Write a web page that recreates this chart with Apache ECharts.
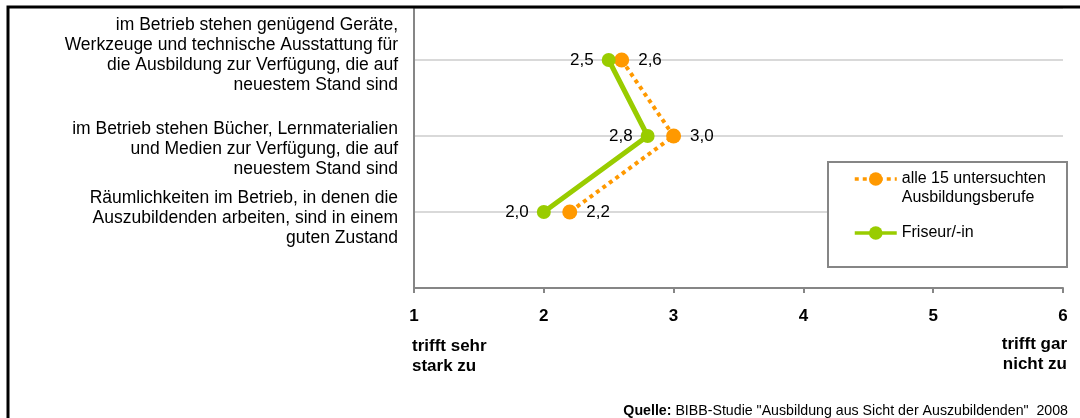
<!DOCTYPE html>
<html>
<head>
<meta charset="utf-8">
<script src="https://cdn.jsdelivr.net/npm/echarts@6/dist/echarts.min.js"></script>
<style>
  html, body { margin: 0; padding: 0; background: #fff; }
  #chart { width: 1080px; height: 418px; }
</style>
</head>
<body>
<div id="chart"></div>
<script>
// statements, top to bottom as in the picture
const categories = [
  'im Betrieb stehen genügend Geräte,\nWerkzeuge und technische Ausstattung für\ndie Ausbildung zur Verfügung, die auf\nneuestem Stand sind',
  'im Betrieb stehen Bücher, Lernmaterialien\nund Medien zur Verfügung, die auf\nneuestem Stand sind',
  'Räumlichkeiten im Betrieb, in denen die\nAuszubildenden arbeiten, sind in einem\nguten Zustand'
]
// y position of each statement on the value axis (top row = 3)
const rowPos = [3, 2, 1]
const alleValues = [2.6, 3.0, 2.2]
const friseurValues = [2.5, 2.8, 2.0]
const seriesNames = ['alle 15 untersuchten Ausbildungsberufe', 'Friseur/-in']
const xTicks = [1, 2, 3, 4, 5, 6]

const font = 'Liberation Sans, Arial, sans-serif'
const fmt = v => v.toFixed(1).replace('.', ',')
const rowLabel = (pad) => ({ fontSize: 17.5, lineHeight: 20, color: '#000', align: 'right', fontFamily: font, padding: pad })

const chart = echarts.init(document.getElementById('chart'))

chart.setOption({
  animation: false,
  textStyle: { fontFamily: font },
  grid: { left: 414, right: 17, top: 8, bottom: 130 },
  xAxis: {
    type: 'value',
    min: xTicks[0],
    max: xTicks[xTicks.length - 1],
    interval: 1,
    axisLine: { show: true, lineStyle: { color: '#868686', width: 2 } },
    axisTick: { show: true, length: 5, lineStyle: { color: '#868686', width: 2 } },
    splitLine: { show: false },
    axisLabel: { color: '#000', fontSize: 17, fontWeight: 'bold', margin: 20, fontFamily: font }
  },
  yAxis: {
    type: 'value',
    min: 0,
    max: 3.684,
    interval: 1,
    axisLine: { show: true, lineStyle: { color: '#868686', width: 2 } },
    axisTick: { show: false },
    splitLine: { show: true, lineStyle: { color: '#D9D9D9', width: 2 } },
    axisLabel: {
      margin: 16,
      align: 'right',
      formatter: v => {
        const i = rowPos.indexOf(v)
        return i < 0 ? '' : '{r' + i + '|' + categories[i] + '}'
      },
      rich: {
        r0: rowLabel([0, 0, 10, 0]),
        r1: rowLabel([26, 0, 0, 0]),
        r2: rowLabel([12, 0, 0, 0])
      }
    }
  },
  legend: {
    orient: 'vertical',
    left: 853,
    top: 152,
    padding: 0,
    itemWidth: 42,
    itemHeight: 17,
    itemGap: 19,
    data: seriesNames,
    lineStyle: { width: 3.5 },
    formatter: name => name === seriesNames[0]
      ? '{a|alle 15 untersuchten\nAusbildungsberufe}'
      : '{b|' + name + '}',
    textStyle: {
      rich: {
        a: { fontSize: 16, lineHeight: 19, color: '#000', fontFamily: font, padding: [19, 0, 0, 0] },
        b: { fontSize: 16, lineHeight: 19, color: '#000', fontFamily: font }
      }
    }
  },
  title: [
    {
      left: 407, top: 331,
      text: 'trifft sehr\nstark zu',
      textStyle: { fontSize: 17, fontWeight: 'bold', lineHeight: 20, color: '#000', fontFamily: font }
    },
    {
      right: 8, top: 329,
      text: '{r|trifft gar}\n{r|nicht zu}',
      textStyle: {
        rich: { r: { fontSize: 17, fontWeight: 'bold', lineHeight: 20, color: '#000', fontFamily: font, align: 'right' } }
      }
    },
    {
      right: 7, top: 399,
      text: '{q|Quelle:} BIBB-Studie "Ausbildung aus Sicht der Auszubildenden"  2008',
      textStyle: {
        fontSize: 14.2, fontWeight: 'normal', color: '#000', fontFamily: font,
        rich: { q: { fontSize: 14.2, fontWeight: 'bold', color: '#000', fontFamily: font } }
      }
    }
  ],
  graphic: [
    {
      // outer frame
      type: 'rect', z: 100, silent: true,
      shape: { x: 8, y: 7, width: 1200, height: 600 },
      style: { fill: 'none', stroke: '#000', lineWidth: 3 }
    },
    {
      // legend box
      type: 'rect', z: 1, silent: true,
      shape: { x: 828, y: 162, width: 239, height: 105 },
      style: { fill: '#fff', stroke: '#868686', lineWidth: 2 }
    }
  ],
  series: [
    {
      name: seriesNames[0],
      type: 'line',
      data: alleValues.map((v, i) => [v, rowPos[i]]),
      symbol: 'circle',
      symbolSize: 15,
      itemStyle: { color: '#FF9900' },
      lineStyle: { color: '#FF9900', width: 4, type: [4, 4] },
      label: { show: true, position: 'right', distance: 9, color: '#000', fontSize: 17, fontFamily: font, formatter: p => fmt(p.value[0]) }
    },
    {
      name: seriesNames[1],
      type: 'line',
      data: friseurValues.map((v, i) => [v, rowPos[i]]),
      symbol: 'circle',
      symbolSize: 14,
      itemStyle: { color: '#99CC00' },
      lineStyle: { color: '#99CC00', width: 5 },
      label: { show: true, position: 'left', distance: 8, color: '#000', fontSize: 17, fontFamily: font, formatter: p => fmt(p.value[0]) }
    }
  ]
})
</script>
</body>
</html>
